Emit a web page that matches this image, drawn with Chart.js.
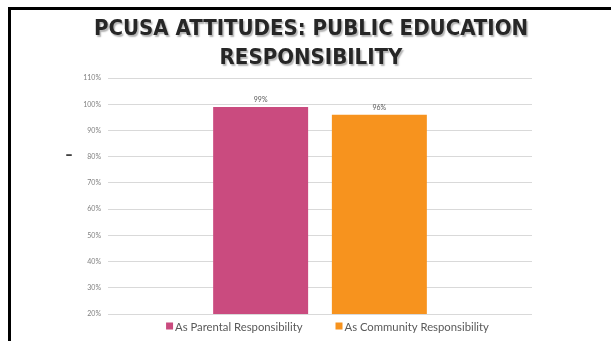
<!DOCTYPE html>
<html><head><meta charset="utf-8">
<script src="https://cdn.jsdelivr.net/npm/chart.js@4/dist/chart.umd.min.js"></script>
<style>
html,body{margin:0;padding:0;background:#fff;}
#wrap{position:relative;width:611px;height:341px;overflow:hidden;background:#fff;}
#frame{position:absolute;left:8px;top:7px;right:0;bottom:0;border-left:3px solid #000;border-top:3px solid #000;}
canvas{position:absolute;left:0;top:0;}
</style></head><body>
<div id="wrap"><div id="frame"></div><canvas id="c" width="611" height="341"></canvas></div>
<script>
const titleLines = ['PCUSA ATTITUDES: PUBLIC EDUCATION', 'RESPONSIBILITY'];
const categories = [''];
const seriesNames = ['As Parental Responsibility', 'As Community Responsibility'];
const parentalValues = [99];
const communityValues = [96];
const seriesColors = ['#CA4B7F', '#F7931E'];
const yMin = 20, yMax = 110, yStep = 10;
const axisMarker = '–';
const axisMarkerValue = 80;

const titleShadow = {
  id: 'titleShadow',
  afterInit(chart) {
    const tb = chart.titleBlock;
    if (!tb) return;
    const orig = tb.draw.bind(tb);
    tb.draw = function (area) {
      const ctx = chart.ctx;
      ctx.save();
      ctx.shadowColor = 'rgba(0,0,0,0.3)';
      ctx.shadowOffsetX = 1.5;
      ctx.shadowOffsetY = 1.5;
      ctx.shadowBlur = 1.5;
      orig(area);
      ctx.restore();
    };
  }
};

const valueLabels = {
  id: 'valueLabels',
  afterDatasetsDraw(chart) {
    const ctx = chart.ctx;
    ctx.save();
    ctx.font = '7px Lato';
    ctx.fillStyle = '#595959';
    ctx.textAlign = 'center';
    ctx.textBaseline = 'middle';
    chart.data.datasets.forEach((ds, i) => {
      chart.getDatasetMeta(i).data.forEach((el, j) => {
        ctx.fillText(ds.data[j] + '%', el.x, el.y - 7);
      });
    });
    ctx.restore();
  }
};

const bottomLegend = {
  id: 'bottomLegend',
  afterDraw(chart) {
    const ctx = chart.ctx;
    const area = chart.chartArea;
    ctx.save();
    ctx.font = '11.3px Lato';
    ctx.textBaseline = 'middle';
    const gap = 33, box = 7, boxGap = 2;
    const widths = chart.data.datasets.map(ds => box + boxGap + ctx.measureText(ds.label).width);
    const total = widths.reduce((a, b) => a + b, 0) + gap * (widths.length - 1);
    let x = (area.left + area.right) / 2 + 7.5 - total / 2;
    const y = area.bottom + 13;
    chart.data.datasets.forEach((ds, i) => {
      ctx.fillStyle = ds.backgroundColor;
      ctx.fillRect(x, y - box / 2 - 1, box, box);
      ctx.fillStyle = '#595959';
      ctx.fillText(ds.label, x + box + boxGap, y);
      x += widths[i] + gap;
    });
    ctx.restore();
  }
};

const axisMark = {
  id: 'axisMark',
  afterDraw(chart) {
    const ctx = chart.ctx;
    const ys = chart.scales.y;
    ctx.save();
    ctx.font = 'bold 14px "DejaVu Sans"';
    ctx.fillStyle = '#404040';
    ctx.textAlign = 'center';
    ctx.textBaseline = 'middle';
    ctx.fillText(axisMarker, 69, ys.getPixelForValue(axisMarkerValue) - 1);
    ctx.restore();
  }
};

new Chart(document.getElementById('c'), {
  type: 'bar',
  data: {
    labels: categories,
    datasets: [
      { label: seriesNames[0], data: parentalValues, backgroundColor: seriesColors[0] },
      { label: seriesNames[1], data: communityValues, backgroundColor: seriesColors[1] }
    ]
  },
  options: {
    responsive: false,
    animation: false,
    events: [],
    categoryPercentage: 0.56,
    barPercentage: 0.8,
    layout: { padding: { left: 11, right: 0, top: 0, bottom: 27 } },
    plugins: {
      legend: { display: false },
      tooltip: { enabled: false },
      title: {
        display: true,
        text: titleLines,
        color: '#262626',
        font: { family: '"DejaVu Sans Condensed", "DejaVu Sans"', weight: 'bold', size: 22, lineHeight: 1.32 },
        padding: { top: 15, bottom: 5 }
      }
    },
    scales: {
      x: {
        display: true,
        grid: { display: false, drawTicks: false },
        border: { display: false },
        ticks: { display: false }
      },
      y: {
        min: yMin, max: yMax,
        afterFit(scale) { scale.width = 97; },
        grid: { color: '#D9D9D9', lineWidth: 1, drawTicks: false },
        border: { display: false },
        ticks: {
          stepSize: yStep,
          padding: 7,
          color: '#808080',
          font: { family: 'Lato', size: 7 },
          callback: v => v + '%'
        }
      },
      yRight: {
        position: 'right',
        display: true,
        afterFit(scale) { scale.width = 79; },
        grid: { display: false, drawTicks: false },
        border: { display: false },
        ticks: { display: false }
      }
    }
  },
  plugins: [titleShadow, valueLabels, bottomLegend, axisMark]
});
</script>
</body></html>
